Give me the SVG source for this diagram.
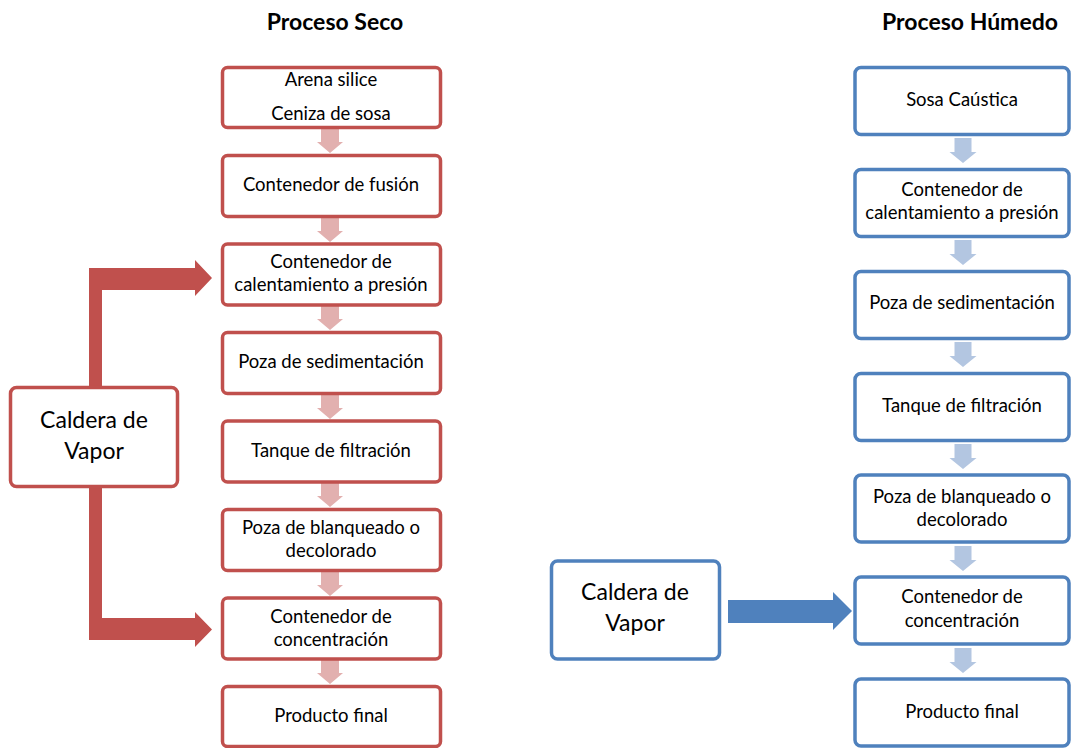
<svg xmlns="http://www.w3.org/2000/svg" width="1072" height="748" viewBox="0 0 1072 748">
<defs>
<style>
.t{font-family:Lato,"Liberation Sans",sans-serif;font-size:18.5px;fill:#000;text-anchor:middle}
.c{font-size:23px}
.h{font-family:Lato,"Liberation Sans",sans-serif;font-size:23px;font-weight:bold;fill:#000;text-anchor:middle}
.rb{fill:#fff;stroke:#C0504D;stroke-width:3.5}
.bb{fill:#fff;stroke:#4F81BD;stroke-width:3.5}
.pa{fill:#E2B0AF}
.la{fill:#B3C6E1}
.ra{fill:#C0504D}
.ba{fill:#4F81BD}
</style>
<path id="sa" d="M-9,0 H9 V13 H13 L0,24 L-13,13 H-9 Z"/>
<path id="la" d="M-8.5,0 H8.5 V14 H13.5 L0,25 L-13.5,14 H-8.5 Z"/>
</defs>
<rect width="1072" height="748" fill="#fff"/>

<text class="h" x="335" y="30">Proceso Seco</text>
<text class="h" x="970" y="30">Proceso Húmedo</text>

<g id="connectors">
  <use href="#sa" class="pa" x="330" y="129"/>
  <use href="#sa" class="pa" x="330" y="218"/>
  <use href="#sa" class="pa" x="330" y="306"/>
  <use href="#sa" class="pa" x="330" y="395"/>
  <use href="#sa" class="pa" x="330" y="483"/>
  <use href="#sa" class="pa" x="330" y="572"/>
  <use href="#sa" class="pa" x="330" y="660"/>
  <path class="ra" d="M89,387 V268 H195 V260 L212,278 L195,296 V290 H102 V387 Z"/>
  <path class="ra" d="M89,487 V640 H195 V647 L212,629.5 L195,612 V618 H102 V487 Z"/>
  <use href="#la" class="la" x="963" y="138"/>
  <use href="#la" class="la" x="963" y="240"/>
  <use href="#la" class="la" x="963" y="342"/>
  <use href="#la" class="la" x="963" y="444"/>
  <use href="#la" class="la" x="963" y="546"/>
  <use href="#la" class="la" x="963" y="648"/>
  <path class="ba" d="M728,600 H833 V592 L852,611 L833,630 V623 H728 Z"/>
</g>

<g id="seco-arena"><rect class="rb" x="222.5" y="67.5" width="218" height="60" rx="5"/><text class="t" x="331" y="86">Arena silice</text><text class="t" x="331" y="120">Ceniza de sosa</text></g>
<g id="seco-fusion"><rect class="rb" x="222.5" y="155.5" width="218" height="61" rx="5"/><text class="t" x="331" y="191">Contenedor de fusión</text></g>
<g id="seco-calentamiento"><rect class="rb" x="222.5" y="244" width="218" height="61" rx="5"/><text class="t" x="331" y="268">Contenedor de</text><text class="t" x="331" y="291">calentamiento a presión</text></g>
<g id="seco-sedimentacion"><rect class="rb" x="222.5" y="332.5" width="218" height="61" rx="5"/><text class="t" x="331" y="368">Poza de sedimentación</text></g>
<g id="seco-filtracion"><rect class="rb" x="222.5" y="421" width="218" height="61" rx="5"/><text class="t" x="331" y="457">Tanque de filtración</text></g>
<g id="seco-blanqueado"><rect class="rb" x="222.5" y="509.5" width="218" height="61" rx="5"/><text class="t" x="331" y="534">Poza de blanqueado o</text><text class="t" x="331" y="557">decolorado</text></g>
<g id="seco-concentracion"><rect class="rb" x="222.5" y="598" width="218" height="61" rx="5"/><text class="t" x="331" y="623">Contenedor de</text><text class="t" x="331" y="646">concentración</text></g>
<g id="seco-producto"><rect class="rb" x="222.5" y="686.5" width="218" height="60" rx="5"/><text class="t" x="331" y="722">Producto final</text></g>
<g id="seco-caldera"><rect class="rb" x="10.5" y="387.5" width="167" height="99" rx="6"/><text class="t c" x="94" y="428">Caldera de</text><text class="t c" x="94" y="459">Vapor</text></g>

<g id="humedo-sosa"><rect class="bb" x="855" y="67.5" width="214" height="67" rx="6"/><text class="t" x="962" y="106">Sosa Caústica</text></g>
<g id="humedo-calentamiento"><rect class="bb" x="855" y="169.5" width="214" height="67" rx="6"/><text class="t" x="962" y="196">Contenedor de</text><text class="t" x="962" y="219">calentamiento a presión</text></g>
<g id="humedo-sedimentacion"><rect class="bb" x="855" y="271.5" width="214" height="67" rx="6"/><text class="t" x="962" y="309">Poza de sedimentación</text></g>
<g id="humedo-filtracion"><rect class="bb" x="855" y="373.5" width="214" height="67" rx="6"/><text class="t" x="962" y="412">Tanque de filtración</text></g>
<g id="humedo-blanqueado"><rect class="bb" x="855" y="475" width="214" height="67" rx="6"/><text class="t" x="962" y="503">Poza de blanqueado o</text><text class="t" x="962" y="526">decolorado</text></g>
<g id="humedo-concentracion"><rect class="bb" x="855" y="577" width="214" height="67" rx="6"/><text class="t" x="962" y="603">Contenedor de</text><text class="t" x="962" y="627">concentración</text></g>
<g id="humedo-producto"><rect class="bb" x="855" y="679" width="214" height="67" rx="6"/><text class="t" x="962" y="718">Producto final</text></g>
<g id="humedo-caldera"><rect class="bb" x="551.5" y="561" width="168" height="98" rx="6"/><text class="t c" x="635" y="600">Caldera de</text><text class="t c" x="635" y="631">Vapor</text></g>
</svg>
